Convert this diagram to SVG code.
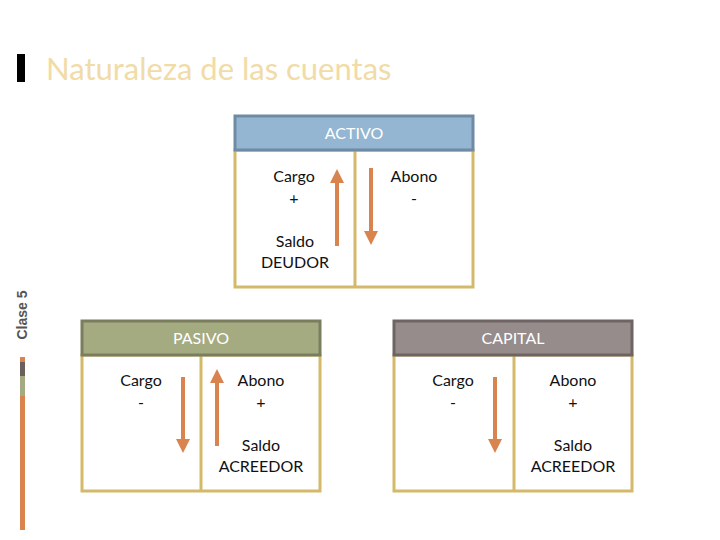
<svg xmlns="http://www.w3.org/2000/svg" width="720" height="540" viewBox="0 0 720 540">
<style>
.t{font-family:Lato,"Open Sans",sans-serif;font-size:16px;fill:#111;text-anchor:middle}
.h{font-family:Lato,"Open Sans",sans-serif;font-size:16px;fill:#fff;text-anchor:middle}
.body{fill:#fff;stroke:#d4b96a;stroke-width:3}
.ar{stroke:#d9834f;stroke-width:4;fill:none}
</style>
<defs><marker id="a" viewBox="0 0 10 10" refX="5" refY="5" markerWidth="3.5" markerHeight="3.5" orient="auto"><path d="M0,0 L10,5 L0,10 z" fill="#d9834f"/></marker></defs>
<rect width="720" height="540" fill="#fff"/>
<rect x="17" y="54" width="8" height="28" fill="#000"/>
<text x="46" y="80" font-family="Lato,'Open Sans',sans-serif" font-size="31" fill="#f1dba6">Naturaleza de las cuentas</text>
<text transform="translate(27,315) rotate(-90)" font-family="'Liberation Sans',sans-serif" font-weight="bold" font-size="14" fill="#555" text-anchor="middle">Clase 5</text>
<rect x="20" y="357" width="5" height="5" fill="#d9834f"/>
<rect x="20" y="362" width="5" height="14" fill="#6b605c"/>
<rect x="20" y="376" width="5" height="20" fill="#a5ab81"/>
<rect x="20" y="396" width="5" height="134" fill="#d9834f"/>
<g id="activo">
<rect class="body" x="235" y="150" width="238" height="137"/>
<line x1="355" y1="150" x2="355" y2="287" stroke="#d4b96a" stroke-width="3"/>
<rect x="235" y="116" width="238" height="34" fill="#94b6d2" stroke="#6f8ba3" stroke-width="3"/>
<text class="h" x="354" y="139">ACTIVO</text>
<text class="t" x="294" y="182">Cargo</text><text class="t" x="294" y="204">+</text>
<text class="t" x="414" y="182">Abono</text><text class="t" x="414" y="204">-</text>
<text class="t" x="295" y="247">Saldo</text><text class="t" x="295" y="268">DEUDOR</text>
</g>
<g id="pasivo">
<rect class="body" x="82" y="355" width="238" height="136"/>
<line x1="201" y1="355" x2="201" y2="491" stroke="#d4b96a" stroke-width="3"/>
<rect x="82" y="321" width="238" height="34" fill="#a5ab81" stroke="#7b7d5f" stroke-width="3"/>
<text class="h" x="201" y="344">PASIVO</text>
<text class="t" x="141" y="386">Cargo</text><text class="t" x="141" y="408">-</text>
<text class="t" x="261" y="386">Abono</text><text class="t" x="261" y="408">+</text>
<text class="t" x="261" y="451">Saldo</text><text class="t" x="261" y="472">ACREEDOR</text>
</g>
<g id="capital">
<rect class="body" x="394" y="355" width="238" height="136"/>
<line x1="514" y1="355" x2="514" y2="491" stroke="#d4b96a" stroke-width="3"/>
<rect x="394" y="321" width="238" height="34" fill="#968c8c" stroke="#6e6464" stroke-width="3"/>
<text class="h" x="513" y="344">CAPITAL</text>
<text class="t" x="453" y="386">Cargo</text><text class="t" x="453" y="408">-</text>
<text class="t" x="573" y="386">Abono</text><text class="t" x="573" y="408">+</text>
<text class="t" x="573" y="451">Saldo</text><text class="t" x="573" y="472">ACREEDOR</text>
</g>
<g id="connectors">
<line class="ar" x1="337" y1="246" x2="337" y2="176" marker-end="url(#a)"/>
<line class="ar" x1="371" y1="168" x2="371" y2="238" marker-end="url(#a)"/>
<line class="ar" x1="183" y1="377" x2="183" y2="446" marker-end="url(#a)"/>
<line class="ar" x1="217" y1="446" x2="217" y2="376" marker-end="url(#a)"/>
<line class="ar" x1="495" y1="377" x2="495" y2="446" marker-end="url(#a)"/>
</g>
</svg>
